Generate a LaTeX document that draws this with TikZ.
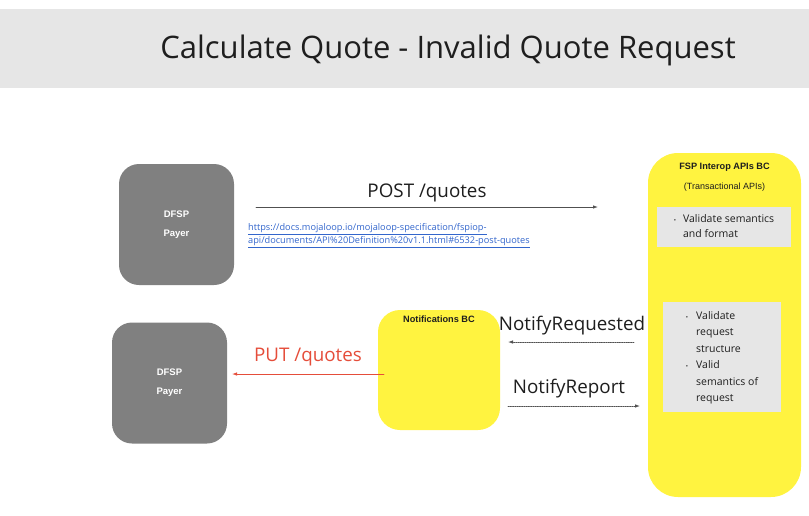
\documentclass[tikz,border=0pt]{standalone}
\usepackage{fontspec}
\setmainfont{Open Sans}
\newfontfamily\arialfont{Liberation Sans}
\usetikzlibrary{arrows.meta,positioning}
\definecolor{bargrey}{RGB}{230,230,230}
\definecolor{payergrey}{RGB}{128,128,128}
\definecolor{bcyellow}{RGB}{255,243,64}
\definecolor{putred}{RGB}{229,77,58}
\definecolor{linkblue}{RGB}{51,102,204}
\definecolor{msggrey}{RGB}{80,80,80}
\definecolor{inkblack}{RGB}{30,30,30}
\tikzset{
 payer/.style={fill=payergrey,rounded corners=20pt,minimum width=115pt,
  minimum height=121pt,text=white,align=center,
  font=\arialfont\bfseries\fontsize{9.5}{19}\selectfont},
 bcbox/.style={fill=bcyellow,rounded corners=#1},
 bctitle/.style={font=\arialfont\bfseries\fontsize{9.2}{10}\selectfont,text=inkblack,inner sep=0pt},
 checkbox/.style={fill=bargrey,text=inkblack},
 msglabel/.style={font=\fontsize{18.8}{21}\selectfont,text=inkblack},
 msg/.style={draw=msggrey,line width=.8pt,-{Latex[length=5pt,width=3.5pt]}},
 notify/.style={msg,densely dotted},
}
\begin{document}
\begin{tikzpicture}[x=1pt,y=-1pt,line cap=round,line join=round]
 \useasboundingbox (0,0) rectangle (809,515);
 % Titel.
 \node[fill=bargrey,minimum width=809pt,minimum height=79pt,inner sep=0pt] (titlebar) at (404.5,48.5) {};
 \node[font=\fontsize{31}{34}\selectfont,text=inkblack] (title) at (448,50) {Calculate Quote - Invalid Quote Request};
 % Payer boxes.
 \node[payer] (payerA) at (176.5,224.5) {DFSP\\Payer};
 \node[payer] (payerB) at (169.5,383) {DFSP\\Payer};
 % FSP Interop APIs BC.
 \node[bcbox=30pt,minimum width=153pt,minimum height=344pt] (fsp) at (724.5,325) {};
 \node[bctitle,below=10pt of fsp.north] (fsptitle) {FSP Interop APIs BC};
 \node[font=\arialfont\fontsize{9}{10}\selectfont,text=inkblack,below=8pt of fsptitle] (fspsub) {(Transactional APIs)};
 \node[checkbox,minimum width=134pt,minimum height=40pt,inner sep=0pt,
  font=\fontsize{10.5}{15}\selectfont] (checkA) at (724,227)
  {\begin{tabular}{@{}l@{\hspace{7pt}}l@{}}
   {\fontsize{6}{6}\selectfont\textbullet} & Validate semantics\\
   & and format
  \end{tabular}};
 \node[checkbox,minimum width=118pt,minimum height=110pt,inner sep=0pt,
  font=\fontsize{10.5}{16.5}\selectfont] (checkB) at (722,357)
  {\begin{tabular}{@{}l@{\hspace{8pt}}l@{}}
   {\fontsize{6}{6}\selectfont\textbullet} & Validate\\
   & request\\
   & structure\\
   {\fontsize{6}{6}\selectfont\textbullet} & Valid\\
   & semantics of\\
   & request
  \end{tabular}};
 % Notifications BC.
 \node[bcbox=22pt,minimum width=122pt,minimum height=120pt] (notif) at (439,370) {};
 \node[bctitle,below=6pt of notif.north] (notiftitle) {Notifications BC};
 % POST /quotes.
 \coordinate (postS) at (256,207);
 \coordinate (postE) at (598,207);
 \draw[msg] (postS) -- node[msglabel,above=1pt] (postlabel) {POST /quotes} (postE);
 \node[anchor=north west,inner sep=0pt,text=linkblue,align=left,
  font=\fontsize{9.2}{13}\selectfont] (postdoc) at (248,223)
  {\underline{https://docs.mojaloop.io/mojaloop-specification/fspiop-}\\
   \underline{api/documents/API\%20Definition\%20v1.1.html\#6532-post-quotes}};
 % Notify.
 \coordinate (reqS) at (634,342);
 \coordinate (reqE) at (508,342);
 \draw[notify] (reqS) -- (reqE);
 \node[msglabel] (reqlabel) at (572,326) {NotifyRequested};
 \coordinate (repS) at (508,406);
 \coordinate (repE) at (640,406);
 \draw[notify] (repS) -- (repE);
 \node[msglabel] (replabel) at (569,389) {NotifyReport};
 % PUT /quotes.
 \coordinate (putS) at (384,374);
 \coordinate (putE) at (232,374);
 \draw[msg,draw=putred] (putS) -- (putE);
 \node[msglabel,text=putred] (putlabel) at (308,357) {PUT /quotes};
\end{tikzpicture}
\end{document}
